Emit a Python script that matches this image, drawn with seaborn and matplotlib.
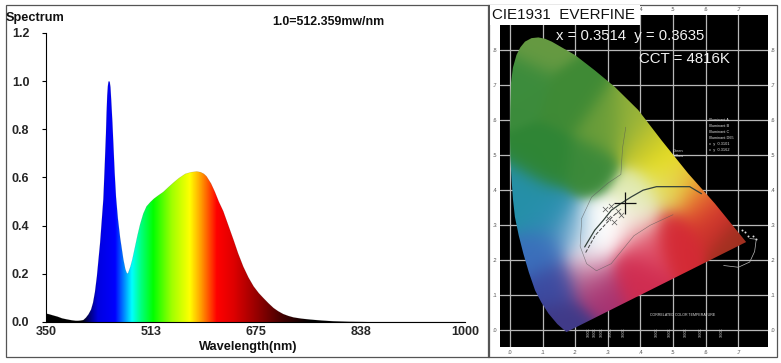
import numpy as np
import pandas as pd
import matplotlib
matplotlib.use("Agg")
import matplotlib.pyplot as plt
from matplotlib.colors import LinearSegmentedColormap, to_rgb
from matplotlib.patches import Polygon, Rectangle
import seaborn as sns

sns.set_style("white")
plt.rcParams["font.family"] = ["Liberation Sans", "DejaVu Sans"]

# ---------- spectrum data ----------
wavelength = [350, 355, 360, 368, 375, 382, 390, 396, 400, 404, 408, 412, 416, 420, 423, 426, 429, 431.5, 434,
              436.5, 439, 441, 443, 444, 445, 446, 447, 448, 449, 450, 451, 453, 454.5, 456.5, 458.6, 461.5, 465,
              470, 473, 475, 477, 481, 484, 488, 492, 496, 501, 506, 512, 517.5, 524, 532, 540, 547.5, 556,
              566, 575, 584, 590, 595, 599, 606, 612, 618, 625, 633, 641, 648, 656, 664, 672, 680, 687, 695,
              703, 710, 718, 726, 734, 746, 760, 778, 796, 820, 850, 1000]
intensity = [0.035, 0.032, 0.028, 0.022, 0.015, 0.011, 0.007, 0.005, 0.005, 0.006, 0.008, 0.018, 0.032, 0.052,
             0.08, 0.125, 0.19, 0.26, 0.33, 0.42, 0.51, 0.64, 0.78, 0.87, 0.94, 0.98, 0.998, 1.0, 0.995, 0.975, 0.93,
             0.83, 0.74, 0.62, 0.52, 0.43, 0.35, 0.26, 0.22, 0.205, 0.20, 0.23, 0.26, 0.31, 0.36, 0.405, 0.45,
             0.48, 0.498, 0.512, 0.525, 0.54, 0.56, 0.578, 0.597, 0.615, 0.622, 0.625, 0.622, 0.615, 0.605, 0.575,
             0.54, 0.50, 0.46, 0.40, 0.34, 0.285, 0.23, 0.185, 0.148, 0.12, 0.10, 0.078, 0.058, 0.045, 0.033,
             0.025, 0.019, 0.014, 0.01, 0.006, 0.003, 0.001, 0.0, 0.0]
y_ticks = [0.0, 0.2, 0.4, 0.6, 0.8, 1.0, 1.2]
x_ticks = [350, 513, 675, 838, 1000]

band_nm = [350, 405, 418, 430, 457, 470, 483, 497, 516, 545, 573, 590, 615, 640, 672, 718, 760, 1000]
band_rgb = ["#000000", "#000000", "#000080", "#0000e0", "#0000ff", "#0080ff", "#00ffff", "#00ff80",
            "#00ff00", "#a0ff00", "#ffff00", "#ffa000", "#ff0000", "#e00000", "#a00000", "#400000",
            "#000000", "#000000"]

# ---------- chromaticity data ----------
locus_x = [0.173, 0.145, 0.118, 0.096, 0.077, 0.058, 0.041, 0.027, 0.015, 0.009, 0.005, 0.001, 0.0, 0.001, 0.003, 0.009,
           0.020, 0.032, 0.046, 0.066, 0.087, 0.108, 0.128, 0.199, 0.26, 0.321, 0.393, 0.464, 0.546, 0.628, 0.724]
locus_y = [-0.005, 0.018, 0.048, 0.08, 0.114, 0.165, 0.219, 0.27, 0.324, 0.375, 0.429, 0.495, 0.562, 0.635, 0.705, 0.75,
           0.786, 0.808, 0.824, 0.834, 0.836, 0.832, 0.824, 0.786, 0.742, 0.695, 0.629, 0.543, 0.448, 0.362, 0.252]
cie_x = [0.087, 0.036, 0.189, 0.117, 0.291, 0.24, 0.372, 0.423, 0.474, 0.536, 0.577, 0.495, 0.393, 0.321,
         0.26, 0.383, 0.24, 0.189, 0.056, 0.117, 0.107, 0.148, 0.168, 0.27, 0.24, 0.372, 0.505, 0.403,
         0.628, 0.709, 0.597]
cie_y = [0.819, 0.705, 0.657, 0.486, 0.581, 0.467, 0.581, 0.533, 0.476, 0.429, 0.39, 0.41, 0.381, 0.295,
         0.276, 0.314, 0.21, 0.276, 0.371, 0.324, 0.229, 0.133, 0.019, 0.124, 0.162, 0.171, 0.276, 0.248,
         0.324, 0.257, 0.362]
cie_rgb = ["#669a42", "#3c8c3c", "#3f8a35", "#2f8535", "#6a9d3a", "#3c8a3a", "#95b23a", "#c8c82c", "#e8e020",
           "#e8c830", "#ee9a30", "#e2e070", "#e0eab0", "#ffffff", "#ffffff", "#f4f4e6", "#ffffff", "#6fa8cc",
           "#2590a8", "#2a8fb0", "#3b6fbc", "#3c4aa0", "#403a88", "#a53070", "#c06a90", "#d02c50", "#d42a35",
           "#e0506a", "#c8302c", "#a03020", "#e04030"]
planck_x = [0.229, 0.26, 0.286, 0.311, 0.34, 0.372, 0.408, 0.449, 0.489, 0.551, 0.587]
planck_y = [0.238, 0.286, 0.314, 0.343, 0.362, 0.381, 0.40, 0.41, 0.41, 0.41, 0.39]
planck_low_x = [0.232, 0.262, 0.29, 0.315, 0.33]
planck_low_y = [0.222, 0.272, 0.30, 0.325, 0.338]
region_a_x = [0.355, 0.345, 0.34, 0.30, 0.25, 0.22]
region_a_y = [0.58, 0.52, 0.445, 0.42, 0.38, 0.32]
region_b_x = [0.22, 0.215, 0.235, 0.265, 0.31, 0.38, 0.43, 0.50]
region_b_y = [0.32, 0.24, 0.19, 0.17, 0.19, 0.27, 0.30, 0.33]
cluster_x = [0.29, 0.31, 0.33, 0.30, 0.32, 0.34]
cluster_y = [0.345, 0.355, 0.34, 0.32, 0.31, 0.33]
purple_x = [0.735, 0.755, 0.75, 0.735, 0.70, 0.655]
purple_y = [0.262, 0.26, 0.225, 0.195, 0.18, 0.185]
spectral_dot_x = [0.70, 0.71, 0.72, 0.73, 0.745, 0.755]
spectral_dot_y = [0.30, 0.285, 0.282, 0.27, 0.27, 0.262]
point_x = [0.3514]
point_y = [0.3635]
grid_x = [0.0, 0.1, 0.2, 0.3, 0.4, 0.5, 0.6, 0.7]
grid_y = [0.0, 0.1, 0.2, 0.3, 0.4, 0.5, 0.6, 0.7, 0.8]
grid_labels_x = [".0", ".1", ".2", ".3", ".4", ".5", ".6", ".7"]
grid_labels_y = [".0", ".1", ".2", ".3", ".4", ".5", ".6", ".7", ".8"]
note_labels = ["Illuminant A", "Illuminant B", "Illuminant C", "Illuminant D65", "x  y  0.3101", "x  y  0.3162"]
bottom_scale_x = [0.24, 0.26, 0.28, 0.31, 0.35, 0.45, 0.49, 0.54, 0.585, 0.65]

W, H = 781, 363
fig = plt.figure(figsize=(W / 100, H / 100), dpi=100, facecolor="white")


def px_axes(x0, y0, x1, y1):
    return fig.add_axes([x0 / W, 1 - y1 / H, (x1 - x0) / W, (y1 - y0) / H])


def fig_text(x, y, s, **kw):
    fig.text(x / W, 1 - y / H, s, ha="center", va="center", **kw)


# ---------- left panel ----------
ax = px_axes(46, 33, 465, 322)
spec = pd.DataFrame({"wavelength": wavelength, "intensity": intensity})
sns.lineplot(data=spec, x="wavelength", y="intensity", ax=ax, color="black", linewidth=0.3, alpha=0.2,
             zorder=4)
ax.set_xlim(350, 1000)
ax.set_ylim(0, 1.2)
stops = [(n - band_nm[0]) / (band_nm[-1] - band_nm[0]) for n in band_nm]
cmap = LinearSegmentedColormap.from_list("spectrum", list(zip(stops, band_rgb)), N=1024)
grad = np.linspace(0, 1, 1300)[None, :]
im = ax.imshow(grad, extent=(350, 1000, 0, 1.2), aspect="auto", cmap=cmap, vmin=0, vmax=1,
               interpolation="bilinear", zorder=2)
outline = ax.lines[0].get_xydata()
clip = Polygon(np.vstack([outline, [[1000, 0], [350, 0]]]), transform=ax.transData, fc="none", ec="none")
ax.add_patch(clip)
im.set_clip_path(clip)
ax.set_xticks(x_ticks)
ax.set_yticks(y_ticks)
ax.set_xticklabels([str(v) for v in x_ticks], fontsize=9, fontweight="bold")
ax.set_yticklabels([f"{v:.1f}" for v in y_ticks], fontsize=9, fontweight="bold")
ax.tick_params(axis="x", length=0, pad=3)
ax.tick_params(axis="y", length=3, width=0.8, pad=9, color="black", left=True)
ax.set_xlabel("")
ax.set_ylabel("")
for side in ("top", "right"):
    ax.spines[side].set_visible(False)
for side in ("left", "bottom"):
    ax.spines[side].set_color("black")
    ax.spines[side].set_linewidth(0.8)
    ax.spines[side].set_zorder(6)
fig_text(248, 347, "Wavelength(nm)", fontsize=9.2, fontweight="bold", color="#111111")
fig_text(35, 17.5, "Spectrum", fontsize=9.2, fontweight="bold", color="#111111")
fig_text(328, 22, "1.0=512.359mw/nm", fontsize=8.9, fontweight="bold", color="#111111")

# ---------- right panel ----------
bx = px_axes(500, 15, 768, 347)
bx.set_facecolor("black")
bx.set_xlim(-0.0306, 0.791)
bx.set_ylim(-0.0476, 0.9)
for v in grid_x:
    bx.axvline(v, color="#b8b8b8", lw=0.9, zorder=1)
for v in grid_y:
    bx.axhline(v, color="#b8b8b8", lw=0.9, zorder=1)

gx, gy = np.meshgrid(np.linspace(-0.0306, 0.791, 300), np.linspace(-0.0476, 0.9, 340))
anchors = np.array([to_rgb(c) for c in cie_rgb])
d = (gx[..., None] - np.array(cie_x)) ** 2 + (gy[..., None] - np.array(cie_y)) ** 2
w = np.exp(-d / (2 * 0.042 ** 2)) + 1e-12
img = (w[..., None] * anchors).sum(axis=2) / w.sum(axis=2, keepdims=True)
chrom = bx.imshow(img, origin="lower", extent=(-0.0306, 0.791, -0.0476, 0.9), aspect="auto",
                  interpolation="bilinear", zorder=2)
gamut = Polygon(np.column_stack([locus_x, locus_y]), closed=True, transform=bx.transData, fc="none", ec="none")
bx.add_patch(gamut)
chrom.set_clip_path(gamut)

sns.lineplot(x=planck_x, y=planck_y, ax=bx, color="#33413a", linewidth=0.9, sort=False, zorder=3,
             estimator=None)
sns.lineplot(x=planck_low_x, y=planck_low_y, ax=bx, color="#444444", linewidth=0.7, sort=False, zorder=3,
             estimator=None, linestyle="--")
for lx, ly in [(region_a_x, region_a_y), (region_b_x, region_b_y)]:
    sns.lineplot(x=lx, y=ly, ax=bx, color="#555555", linewidth=0.4, alpha=0.7, sort=False, zorder=3, estimator=None)
sns.scatterplot(x=cluster_x, y=cluster_y, ax=bx, marker="x", s=14, color="#555555", linewidth=0.5, zorder=3)
sns.lineplot(x=purple_x, y=purple_y, ax=bx, color="#bbbbbb", linewidth=0.5, sort=False, zorder=3, estimator=None)
sns.scatterplot(x=spectral_dot_x, y=spectral_dot_y, ax=bx, marker=".", s=8, color="#dddddd", linewidth=0, zorder=3)
sns.scatterplot(x=point_x, y=point_y, ax=bx, marker="+", s=260, color="#101010", linewidth=0.9, zorder=5)

# tiny printed notes on the black background
for i, label in enumerate(note_labels):
    bx.text(0.61, 0.60 - i * 0.017, label, fontsize=2.8, color="#dddddd", zorder=4, va="center")
bx.text(0.50, 0.505, "Green\nYellow", fontsize=2.8, color="#dddddd", zorder=4, va="center")
bx.text(0.43, 0.045, "CORRELATED COLOR TEMPERATURE", fontsize=2.6, color="#dddddd", zorder=4, va="center")
for v in bottom_scale_x:
    bx.text(v, -0.005, "1000K", fontsize=2.4, rotation=90, color="#cccccc", zorder=4, va="center", ha="center")

bx.set_xticks(grid_x)
bx.set_yticks(grid_y)
bx.set_xticklabels(grid_labels_x, fontsize=4, color="#555555")
bx.set_yticklabels(grid_labels_y, fontsize=4, color="#555555")
bx.tick_params(length=0, pad=2, labeltop=True, labelright=True, top=False, right=False)
for tick in bx.xaxis.get_major_ticks()[:4]:
    tick.label2.set_visible(False)
bx.set_xlabel("")
bx.set_ylabel("")
for s in bx.spines.values():
    s.set_visible(False)

# frames and header box
for x0, y0, x1, y1 in [(6, 5, 489, 357), (488, 5, 777, 357)]:
    fig.add_artist(Rectangle((x0 / W, 1 - y1 / H), (x1 - x0) / W, (y1 - y0) / H, transform=fig.transFigure,
                             fc="none", ec="#555555", lw=0.9))
fig.add_artist(Rectangle((489.5 / W, 1 - 25 / H), 150.5 / W, 19.5 / H, transform=fig.transFigure,
                         fc="white", ec="none", zorder=5))
fig.text(563.5 / W, 1 - 15 / H, "CIE1931  EVERFINE", ha="center", va="center", fontsize=10.9,
         color="#111111", zorder=6)
fig_text(630.5, 36, "x = 0.3514  y = 0.3635", fontsize=10.7, color="#f2f2f2")
fig_text(684, 59, "CCT = 4816K", fontsize=10.8, color="#f2f2f2")

fig.savefig("out.png", dpi=100, facecolor="white")
